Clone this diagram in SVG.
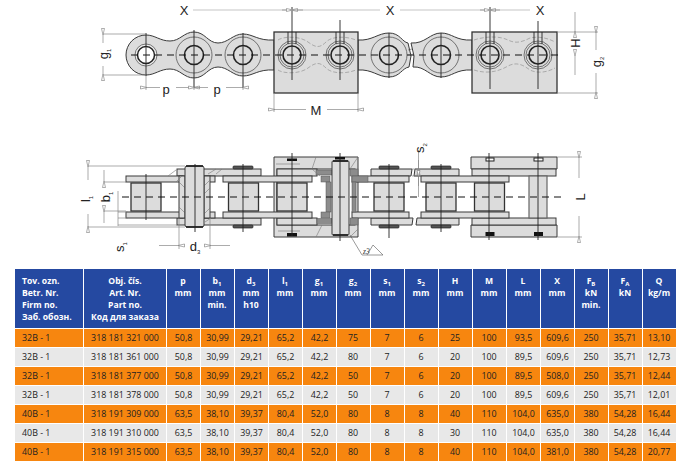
<svg xmlns="http://www.w3.org/2000/svg" width="680" height="465" viewBox="0 0 680 465">
<style>
text{font-family:"Open Sans","Liberation Sans",sans-serif}
.lb{font-family:"Liberation Sans",Arial,sans-serif;font-size:13px;fill:#222;text-anchor:middle}
.ls{font-size:6px}
.th{font-size:8.6px;font-weight:700;fill:#fff;text-anchor:middle}
.thl{text-anchor:start}
.td{font-size:8.9px;fill:#222;text-anchor:middle}
.tdl{text-anchor:start}
.o{fill:#f7860f}.g{fill:#e8e8e8}.b{fill:#2549a1}
.p{fill:#dcdcdc;stroke:#3a3a3a;stroke-width:1}
.pd{fill:#dcdcdc;stroke:#333;stroke-width:1.3}
.cl{fill:none;stroke:#222;stroke-width:.9}
.dash{fill:none;stroke:#111;stroke-width:1;stroke-dasharray:7 5}
.hid{fill:none;stroke:#888;stroke-width:.6;stroke-dasharray:4 2}
.dim{fill:none;stroke:#888;stroke-width:.7}
.ar{fill:none;stroke:#888;stroke-width:.7;marker-start:url(#a);marker-end:url(#a)}
.bar{fill:none;stroke:#e2e2e2;stroke-width:2}
.ring{fill:none;stroke:#444;stroke-width:.7}
.thick{fill:#dcdcdc;stroke:#222;stroke-width:1.6}
.cap{fill:#555;stroke:#222;stroke-width:.7}
.blk{fill:#111}
.hat{fill:url(#h);stroke:#555;stroke-width:.5}
.wld{fill:none;stroke:#777;stroke-width:.6}
</style>
<defs>
<marker id="a" markerUnits="userSpaceOnUse" markerWidth="8" markerHeight="5" refX="0.5" refY="2.5" orient="auto-start-reverse"><path d="M.5 2.5 7 1 7 4Z" fill="#fff" stroke="#777" stroke-width=".6"/></marker>
<pattern id="h" width="2" height="2" patternUnits="userSpaceOnUse"><rect width="2" height="2" fill="#bbb"/><path d="M0 2 2 0M0 0 2 2" stroke="#444" stroke-width=".4"/></pattern>
<g id="pin"><circle r="18" class="ring"/><circle r="9.5" class="thick"/></g>
<g id="pinB"><circle r="14" class="ring"/><circle r="12" class="ring"/><circle r="9" class="thick"/><path d="M-4 -23V-11M4 -23V-11" class="cl" stroke-width=".6"/></g>
<g id="roller"><rect x="0" y="183" width="30" height="28" class="pd"/></g>
<g id="capT"><rect x="0" y="166" width="20" height="3" rx="1" class="cap"/></g>
<g id="capB"><rect x="0" y="225" width="20" height="3" rx="1" class="cap"/></g>
</defs>
<rect width="680" height="465" fill="#fff"/>

<g id="top-view">
<path class="p" d="M146 35A20 20 0 0 0 146 75C155 75 160 69 170 69C180 69 184 78 194 78C205 78 208 67 218 67C228 67 233 76 243 76C253 76 258 69 274 70V40C258 41 253 34 243 34C233 34 228 43 218 43C208 43 205 32 194 32C184 32 180 41 170 41C160 41 155 35 146 35Z"/>
<path class="p" d="M358 40C372 41 378 33 389 33C400 33 402 42 408 43L411 56 409 67C402 68 400 77 389 77C378 77 372 69 358 70Z"/>
<path class="p" d="M411 43C425 44 430 33 441 33C452 33 456 41 472 40V70C456 69 452 77 441 77C430 77 425 66 413 67L414 56Z"/>
<circle cx="146" cy="55" r="11" fill="#eee" stroke="#444" stroke-width=".7"/>
<circle cx="146" cy="55" r="8.5" fill="#fff" stroke="#222" stroke-width="1.5"/>
<use href="#pin" x="194" y="55"/><use href="#pin" x="243" y="55"/><use href="#pin" x="389" y="55"/><use href="#pin" x="441" y="55"/>
<rect class="pd" x="274" y="32" width="84" height="61"/>
<rect class="pd" x="472" y="32" width="85" height="61"/>
<path class="hid" d="M278 40C284 36 300 36 308 42C316 48 320 48 326 42C332 36 346 36 356 40M278 70C284 74 300 74 308 68C316 62 320 62 326 68C332 74 346 74 356 70M474 40C486 36 500 36 508 40C516 44 522 42 530 38C538 36 548 38 555 42M474 70C486 74 498 72 508 66C516 62 522 64 530 70C538 74 548 72 555 68"/>
<use href="#pinB" x="292" y="55"/><use href="#pinB" x="340" y="55"/><use href="#pinB" x="490" y="55"/><use href="#pinB" x="538" y="55"/>
<path class="dash" d="M131 55H560"/>
<path class="cl" d="M146 33V76M194 30V88M243 33V88M292 7V80M340 20V80M389 33V78M441 33V78M490 7V89M538 21V89"/>
<path d="M146 76V90M194 78V90M243 76V90" class="dim"/>
<path d="M408 50 412 49M408 55 414 54" stroke="#555" stroke-width=".6"/>
<path class="bar" d="M193 10H380M400 10H530"/>
<path class="dim" d="M103 34H146M103 75H146M274 93V112M358 93V112M557 32H598M557 93H598"/>
<path class="dim" marker-end="url(#a)" d="M103 43V35"/><path class="dim" marker-end="url(#a)" d="M103 66V74"/>
<path class="dim" marker-end="url(#a)" d="M160 87.5H147"/><path class="dim" marker-end="url(#a)" d="M176 87.5H193"/>
<path class="dim" marker-end="url(#a)" d="M208 87.5H195"/><path class="dim" marker-end="url(#a)" d="M226 87.5H242"/>
<path class="dim" marker-end="url(#a)" d="M306 109.500H275"/><path class="dim" marker-end="url(#a)" d="M327 109.500H357"/>
<path class="dim" marker-end="url(#a)" d="M282 10H291"/><path class="dim" marker-end="url(#a)" d="M303 10H293"/>
<path class="dim" marker-end="url(#a)" d="M480 10H489"/><path class="dim" marker-end="url(#a)" d="M500 10H491"/>
<path class="dim" marker-end="url(#a)" d="M575 12V31"/><path class="dim" marker-end="url(#a)" d="M575 75V56"/>
<path class="dim" marker-end="url(#a)" d="M596 50V33"/><path class="dim" marker-end="url(#a)" d="M596 73V92"/>
<text class="lb" x="184" y="15">X</text><text class="lb" x="390" y="15">X</text><text class="lb" x="540" y="15">X</text>
<text class="lb" x="166" y="94">p</text><text class="lb" x="217" y="94">p</text>
<text class="lb" x="316" y="115">M</text>
<text class="lb" transform="translate(580 43) rotate(-90)">H</text>
<text class="lb" transform="translate(108 54) rotate(-90)">g<tspan class="ls" dy="3">1</tspan></text>
<text class="lb" transform="translate(601 62) rotate(-90)">g<tspan class="ls" dy="3">2</tspan></text>
</g>

<g id="side-view">
<path class="p" d="M274 157H358V237H274Z"/>
<path class="p" d="M471 157H557V169H471ZM471 225H557V237H471Z"/>
<rect class="p" x="277" y="169" width="78" height="56" fill="#fff" style="fill:#fff"/>
<rect class="p" x="177" y="169" width="84" height="7"/><rect class="p" x="177" y="218" width="84" height="7"/>
<rect class="p" x="277" y="169" width="40" height="7"/><rect class="p" x="277" y="218" width="40" height="7"/>
<rect class="p" x="472" y="169" width="84" height="7"/><rect class="p" x="472" y="218" width="84" height="7"/>
<path class="p" d="M371 169H412L411 176H371ZM371 218H413L412 225H371Z"/>
<path class="p" d="M415 169H459V176H414ZM417 218H459V225H416Z"/>
<rect class="p" x="126" y="176" width="57" height="6"/><rect class="p" x="126" y="212" width="57" height="6"/>
<rect class="p" x="204" y="176" width="11" height="6"/><rect class="p" x="204" y="212" width="11" height="6"/>
<rect class="p" x="223" y="176" width="89" height="6"/><rect class="p" x="223" y="212" width="89" height="6"/>
<rect class="p" x="352" y="176" width="57" height="6"/><rect class="p" x="352" y="212" width="57" height="6"/>
<rect class="p" x="421" y="176" width="88" height="6"/><rect class="p" x="421" y="212" width="88" height="6"/>
<rect class="p" x="529" y="176" width="18" height="42" style="stroke:#666;stroke-width:1.2"/>
<use href="#roller" x="131"/><use href="#roller" x="228.500"/><use href="#roller" x="277"/><use href="#roller" x="374"/><use href="#roller" x="426"/><use href="#roller" x="474.500"/>
<rect class="p" x="179" y="176" width="6" height="42"/><rect class="p" x="204" y="176" width="6" height="42"/>
<path class="wld" d="M179 182 185 188M179 207 185 213M204 186 210 180M204 194 210 188M204 214 210 208M168 176 176 170M176 182 182 176M208 174 216 169M216 174 222 169M205 222 211 218"/>
<rect class="p" x="185" y="166" width="19" height="61" rx="2"/>
<path d="M186 166H203M186 227H203" stroke="#111" stroke-width="1.6"/>
<use href="#capT" x="233"/><use href="#capB" x="233"/><use href="#capT" x="379"/><use href="#capB" x="379"/><use href="#capT" x="431"/><use href="#capB" x="431"/>
<rect class="hat" x="316" y="170" width="16" height="5"/><rect class="hat" x="321" y="176" width="9" height="6"/><rect class="hat" x="326" y="182" width="5" height="30"/><rect class="hat" x="321" y="212" width="9" height="6"/><rect class="hat" x="317" y="218.500" width="15" height="5"/>
<rect class="hat" x="350" y="169" width="8" height="7"/><rect class="hat" x="352" y="176" width="16" height="6"/><rect class="hat" x="352" y="182" width="4" height="30"/><rect class="hat" x="350" y="218" width="8" height="7"/>
<path class="wld" d="M316 157 312 169 320 176M322 225 316 237M350 169 358 157M350 237 358 229M276 164H300M278 231H300"/>
<rect class="p" x="332" y="161" width="17" height="74" rx="1"/>
<path d="M333 235H348M333 161H348" stroke="#111" stroke-width="1.6"/>
<rect class="blk" x="287" y="158.500" width="10" height="2.500"/><rect class="blk" x="287" y="233" width="10" height="3.500"/><rect class="blk" x="335" y="157" width="10" height="2.500"/>
<rect x="486" y="158" width="8" height="3" fill="#fff" stroke="#222" stroke-width="1"/><rect x="534" y="158" width="9" height="3" fill="#fff" stroke="#222" stroke-width="1"/>
<rect class="blk" x="485.500" y="232" width="9" height="4"/><rect class="blk" x="534" y="232" width="9" height="4"/>
<path class="dash" d="M122 197H565"/>
<path class="cl" d="M146 174V220M195 164V232M243 164V232M292 153V236M340 153V241M389 164V238M441 164V232M489 153V240M538 153V240"/>
<path class="dim" d="M88 166H185M88 227H185M104 182H126M104 211H126M118 212H128M118 218H128M118 225H177M179 218V249M210 218V249M557 157H582M557 237H582M418 169H412M418 176H412"/>
<path class="dim" marker-end="url(#a)" d="M88 180V167"/><path class="dim" marker-end="url(#a)" d="M88 214V226"/>
<path class="dim" marker-end="url(#a)" d="M104 170V181"/><path class="dim" marker-end="url(#a)" d="M104 223V212"/>
<path class="dim" d="M118 191V226"/>
<path class="dim" marker-end="url(#a)" d="M159 245.500H178"/><path class="dim" marker-end="url(#a)" d="M230 245.500H211"/>
<path class="dim" d="M418.500 150V197"/><path class="dim" marker-end="url(#a)" d="M418.500 160V168.500"/><path class="dim" marker-end="url(#a)" d="M418.500 186V177"/>
<path class="dim" marker-end="url(#a)" d="M579 178V158"/><path class="dim" marker-end="url(#a)" d="M579 216V236"/>
<text class="lb" transform="translate(90 199) rotate(-90)">l<tspan class="ls" dy="3">1</tspan></text>
<text class="lb" transform="translate(110 197) rotate(-90)">b<tspan class="ls" dy="3">1</tspan></text>
<text class="lb" transform="translate(124 247) rotate(-90)">s<tspan class="ls" dy="3">1</tspan></text>
<text class="lb" x="195" y="251">d<tspan class="ls" dy="3">3</tspan></text>
<text class="lb" transform="translate(424 148) rotate(-90)">s<tspan class="ls" dy="3">2</tspan></text>
<text class="lb" transform="translate(585 197) rotate(-90)">L</text>
<path d="M350 235 362 255H383L373 245 367 255" fill="none" stroke="#555" stroke-width=".6"/>
<text x="363" y="254" style="font-family:'Liberation Serif',serif;font-style:italic;font-size:7.500px;fill:#333">z3</text>
</g>

<g id="table">
<rect class="b" x="15" y="269" width="68" height="59"/><rect class="b" x="84" y="269" width="82" height="59"/>
<rect class="b" x="167" y="269" width="33" height="59"/><rect class="b" x="201" y="269" width="33" height="59"/><rect class="b" x="235" y="269" width="33" height="59"/><rect class="b" x="269" y="269" width="33" height="59"/><rect class="b" x="303" y="269" width="33" height="59"/><rect class="b" x="337" y="269" width="33" height="59"/><rect class="b" x="371" y="269" width="33" height="59"/><rect class="b" x="405" y="269" width="33" height="59"/><rect class="b" x="439" y="269" width="33" height="59"/><rect class="b" x="473" y="269" width="33" height="59"/><rect class="b" x="507" y="269" width="33" height="59"/><rect class="b" x="541" y="269" width="33" height="59"/><rect class="b" x="575" y="269" width="33" height="59"/><rect class="b" x="609" y="269" width="33" height="59"/><rect class="b" x="643" y="269" width="33" height="59"/>
<g id="rows">
<path class="o" d="M15 329H83V347H15ZM84 329H166V347H84ZM167 329H200V347H167ZM201 329H234V347H201ZM235 329H268V347H235ZM269 329H302V347H269ZM303 329H336V347H303ZM337 329H370V347H337ZM371 329H404V347H371ZM405 329H438V347H405ZM439 329H472V347H439ZM473 329H506V347H473ZM507 329H540V347H507ZM541 329H574V347H541ZM575 329H608V347H575ZM609 329H642V347H609ZM643 329H676V347H643Z"/>
<path class="g" d="M15 348H83V366H15ZM84 348H166V366H84ZM167 348H200V366H167ZM201 348H234V366H201ZM235 348H268V366H235ZM269 348H302V366H269ZM303 348H336V366H303ZM337 348H370V366H337ZM371 348H404V366H371ZM405 348H438V366H405ZM439 348H472V366H439ZM473 348H506V366H473ZM507 348H540V366H507ZM541 348H574V366H541ZM575 348H608V366H575ZM609 348H642V366H609ZM643 348H676V366H643Z"/>
<path class="o" d="M15 367H83V385H15ZM84 367H166V385H84ZM167 367H200V385H167ZM201 367H234V385H201ZM235 367H268V385H235ZM269 367H302V385H269ZM303 367H336V385H303ZM337 367H370V385H337ZM371 367H404V385H371ZM405 367H438V385H405ZM439 367H472V385H439ZM473 367H506V385H473ZM507 367H540V385H507ZM541 367H574V385H541ZM575 367H608V385H575ZM609 367H642V385H609ZM643 367H676V385H643Z"/>
<path class="g" d="M15 386H83V404H15ZM84 386H166V404H84ZM167 386H200V404H167ZM201 386H234V404H201ZM235 386H268V404H235ZM269 386H302V404H269ZM303 386H336V404H303ZM337 386H370V404H337ZM371 386H404V404H371ZM405 386H438V404H405ZM439 386H472V404H439ZM473 386H506V404H473ZM507 386H540V404H507ZM541 386H574V404H541ZM575 386H608V404H575ZM609 386H642V404H609ZM643 386H676V404H643Z"/>
<path class="o" d="M15 405H83V423H15ZM84 405H166V423H84ZM167 405H200V423H167ZM201 405H234V423H201ZM235 405H268V423H235ZM269 405H302V423H269ZM303 405H336V423H303ZM337 405H370V423H337ZM371 405H404V423H371ZM405 405H438V423H405ZM439 405H472V423H439ZM473 405H506V423H473ZM507 405H540V423H507ZM541 405H574V423H541ZM575 405H608V423H575ZM609 405H642V423H609ZM643 405H676V423H643Z"/>
<path class="g" d="M15 424H83V442H15ZM84 424H166V442H84ZM167 424H200V442H167ZM201 424H234V442H201ZM235 424H268V442H235ZM269 424H302V442H269ZM303 424H336V442H303ZM337 424H370V442H337ZM371 424H404V442H371ZM405 424H438V442H405ZM439 424H472V442H439ZM473 424H506V442H473ZM507 424H540V442H507ZM541 424H574V442H541ZM575 424H608V442H575ZM609 424H642V442H609ZM643 424H676V442H643Z"/>
<path class="o" d="M15 443H83V461H15ZM84 443H166V461H84ZM167 443H200V461H167ZM201 443H234V461H201ZM235 443H268V461H235ZM269 443H302V461H269ZM303 443H336V461H303ZM337 443H370V461H337ZM371 443H404V461H371ZM405 443H438V461H405ZM439 443H472V461H439ZM473 443H506V461H473ZM507 443H540V461H507ZM541 443H574V461H541ZM575 443H608V461H575ZM609 443H642V461H609ZM643 443H676V461H643Z"/>
</g>
<g id="head">
<text class="th thl" x="22" y="284">Tov. ozn.</text><text class="th thl" x="22" y="296">Betr. Nr.</text><text class="th thl" x="22" y="308">Firm no.</text><text class="th thl" x="22" y="320">Заб. обозн.</text>
<text class="th" x="125" y="284">Obj. čís.</text><text class="th" x="125" y="296">Art. Nr.</text><text class="th" x="125" y="308">Part no.</text><text class="th" x="125" y="320">Код для заказа</text>
<text class="th" x="183" y="284">p</text><text class="th" x="183" y="296">mm</text>
<text class="th" x="217" y="284">b<tspan class="ls" dy="2">1</tspan></text><text class="th" x="217" y="296">mm</text><text class="th" x="217" y="308">min.</text>
<text class="th" x="251" y="284">d<tspan class="ls" dy="2">3</tspan></text><text class="th" x="251" y="296">mm</text><text class="th" x="251" y="308">h10</text>
<text class="th" x="285" y="284">l<tspan class="ls" dy="2">1</tspan></text><text class="th" x="285" y="296">mm</text>
<text class="th" x="319" y="284">g<tspan class="ls" dy="2">1</tspan></text><text class="th" x="319" y="296">mm</text>
<text class="th" x="353" y="284">g<tspan class="ls" dy="2">2</tspan></text><text class="th" x="353" y="296">mm</text>
<text class="th" x="387" y="284">s<tspan class="ls" dy="2">1</tspan></text><text class="th" x="387" y="296">mm</text>
<text class="th" x="421" y="284">s<tspan class="ls" dy="2">2</tspan></text><text class="th" x="421" y="296">mm</text>
<text class="th" x="455" y="284">H</text><text class="th" x="455" y="296">mm</text>
<text class="th" x="489" y="284">M</text><text class="th" x="489" y="296">mm</text>
<text class="th" x="523" y="284">L</text><text class="th" x="523" y="296">mm</text>
<text class="th" x="557" y="284">X</text><text class="th" x="557" y="296">mm</text>
<text class="th" x="591" y="284">F<tspan class="ls" dy="2">B</tspan></text><text class="th" x="591" y="296">kN</text><text class="th" x="591" y="308">min.</text>
<text class="th" x="625" y="284">F<tspan class="ls" dy="2">A</tspan></text><text class="th" x="625" y="296">kN</text>
<text class="th" x="659" y="284">Q</text><text class="th" x="659" y="296">kg/m</text>
</g>
<g id="r1"><text class="td tdl" x="22" y="341">32B - 1</text><text class="td" x="125" y="341">318 181 321 000</text><text class="td" x="183.500" y="341">50,8</text><text class="td" x="217.500" y="341">30,99</text><text class="td" x="251.500" y="341">29,21</text><text class="td" x="285.500" y="341">65,2</text><text class="td" x="319.500" y="341">42,2</text><text class="td" x="353" y="341">75</text><text class="td" x="387" y="341">7</text><text class="td" x="421" y="341">6</text><text class="td" x="455" y="341">25</text><text class="td" x="489" y="341">100</text><text class="td" x="523.500" y="341">93,5</text><text class="td" x="557.500" y="341">609,6</text><text class="td" x="591" y="341">250</text><text class="td" x="625" y="341">35,71</text><text class="td" x="659" y="341">13,10</text></g>
<g id="r2"><text class="td tdl" x="22" y="360">32B - 1</text><text class="td" x="125" y="360">318 181 361 000</text><text class="td" x="183.500" y="360">50,8</text><text class="td" x="217.500" y="360">30,99</text><text class="td" x="251.500" y="360">29,21</text><text class="td" x="285.500" y="360">65,2</text><text class="td" x="319.500" y="360">42,2</text><text class="td" x="353" y="360">80</text><text class="td" x="387" y="360">7</text><text class="td" x="421" y="360">6</text><text class="td" x="455" y="360">20</text><text class="td" x="489" y="360">100</text><text class="td" x="523.500" y="360">89,5</text><text class="td" x="557.500" y="360">609,6</text><text class="td" x="591" y="360">250</text><text class="td" x="625" y="360">35,71</text><text class="td" x="659" y="360">12,73</text></g>
<g id="r3"><text class="td tdl" x="22" y="379">32B - 1</text><text class="td" x="125" y="379">318 181 377 000</text><text class="td" x="183.500" y="379">50,8</text><text class="td" x="217.500" y="379">30,99</text><text class="td" x="251.500" y="379">29,21</text><text class="td" x="285.500" y="379">65,2</text><text class="td" x="319.500" y="379">42,2</text><text class="td" x="353" y="379">50</text><text class="td" x="387" y="379">7</text><text class="td" x="421" y="379">6</text><text class="td" x="455" y="379">20</text><text class="td" x="489" y="379">100</text><text class="td" x="523.500" y="379">89,5</text><text class="td" x="557.500" y="379">508,0</text><text class="td" x="591" y="379">250</text><text class="td" x="625" y="379">35,71</text><text class="td" x="659" y="379">12,44</text></g>
<g id="r4"><text class="td tdl" x="22" y="398">32B - 1</text><text class="td" x="125" y="398">318 181 378 000</text><text class="td" x="183.500" y="398">50,8</text><text class="td" x="217.500" y="398">30,99</text><text class="td" x="251.500" y="398">29,21</text><text class="td" x="285.500" y="398">65,2</text><text class="td" x="319.500" y="398">42,2</text><text class="td" x="353" y="398">50</text><text class="td" x="387" y="398">7</text><text class="td" x="421" y="398">6</text><text class="td" x="455" y="398">20</text><text class="td" x="489" y="398">100</text><text class="td" x="523.500" y="398">89,5</text><text class="td" x="557.500" y="398">609,6</text><text class="td" x="591" y="398">250</text><text class="td" x="625" y="398">35,71</text><text class="td" x="659" y="398">12,01</text></g>
<g id="r5"><text class="td tdl" x="22" y="417">40B - 1</text><text class="td" x="125" y="417">318 191 309 000</text><text class="td" x="183.500" y="417">63,5</text><text class="td" x="217.500" y="417">38,10</text><text class="td" x="251.500" y="417">39,37</text><text class="td" x="285.500" y="417">80,4</text><text class="td" x="319.500" y="417">52,0</text><text class="td" x="353" y="417">80</text><text class="td" x="387" y="417">8</text><text class="td" x="421" y="417">8</text><text class="td" x="455" y="417">40</text><text class="td" x="489" y="417">110</text><text class="td" x="523.500" y="417">104,0</text><text class="td" x="557.500" y="417">635,0</text><text class="td" x="591" y="417">380</text><text class="td" x="625" y="417">54,28</text><text class="td" x="659" y="417">16,44</text></g>
<g id="r6"><text class="td tdl" x="22" y="436">40B - 1</text><text class="td" x="125" y="436">318 191 310 000</text><text class="td" x="183.500" y="436">63,5</text><text class="td" x="217.500" y="436">38,10</text><text class="td" x="251.500" y="436">39,37</text><text class="td" x="285.500" y="436">80,4</text><text class="td" x="319.500" y="436">52,0</text><text class="td" x="353" y="436">80</text><text class="td" x="387" y="436">8</text><text class="td" x="421" y="436">8</text><text class="td" x="455" y="436">30</text><text class="td" x="489" y="436">110</text><text class="td" x="523.500" y="436">104,0</text><text class="td" x="557.500" y="436">635,0</text><text class="td" x="591" y="436">380</text><text class="td" x="625" y="436">54,28</text><text class="td" x="659" y="436">16,44</text></g>
<g id="r7"><text class="td tdl" x="22" y="455">40B - 1</text><text class="td" x="125" y="455">318 191 315 000</text><text class="td" x="183.500" y="455">63,5</text><text class="td" x="217.500" y="455">38,10</text><text class="td" x="251.500" y="455">39,37</text><text class="td" x="285.500" y="455">80,4</text><text class="td" x="319.500" y="455">52,0</text><text class="td" x="353" y="455">80</text><text class="td" x="387" y="455">8</text><text class="td" x="421" y="455">8</text><text class="td" x="455" y="455">40</text><text class="td" x="489" y="455">110</text><text class="td" x="523.500" y="455">104,0</text><text class="td" x="557.500" y="455">381,0</text><text class="td" x="591" y="455">380</text><text class="td" x="625" y="455">54,28</text><text class="td" x="659" y="455">20,77</text></g>
</g>
</svg>
